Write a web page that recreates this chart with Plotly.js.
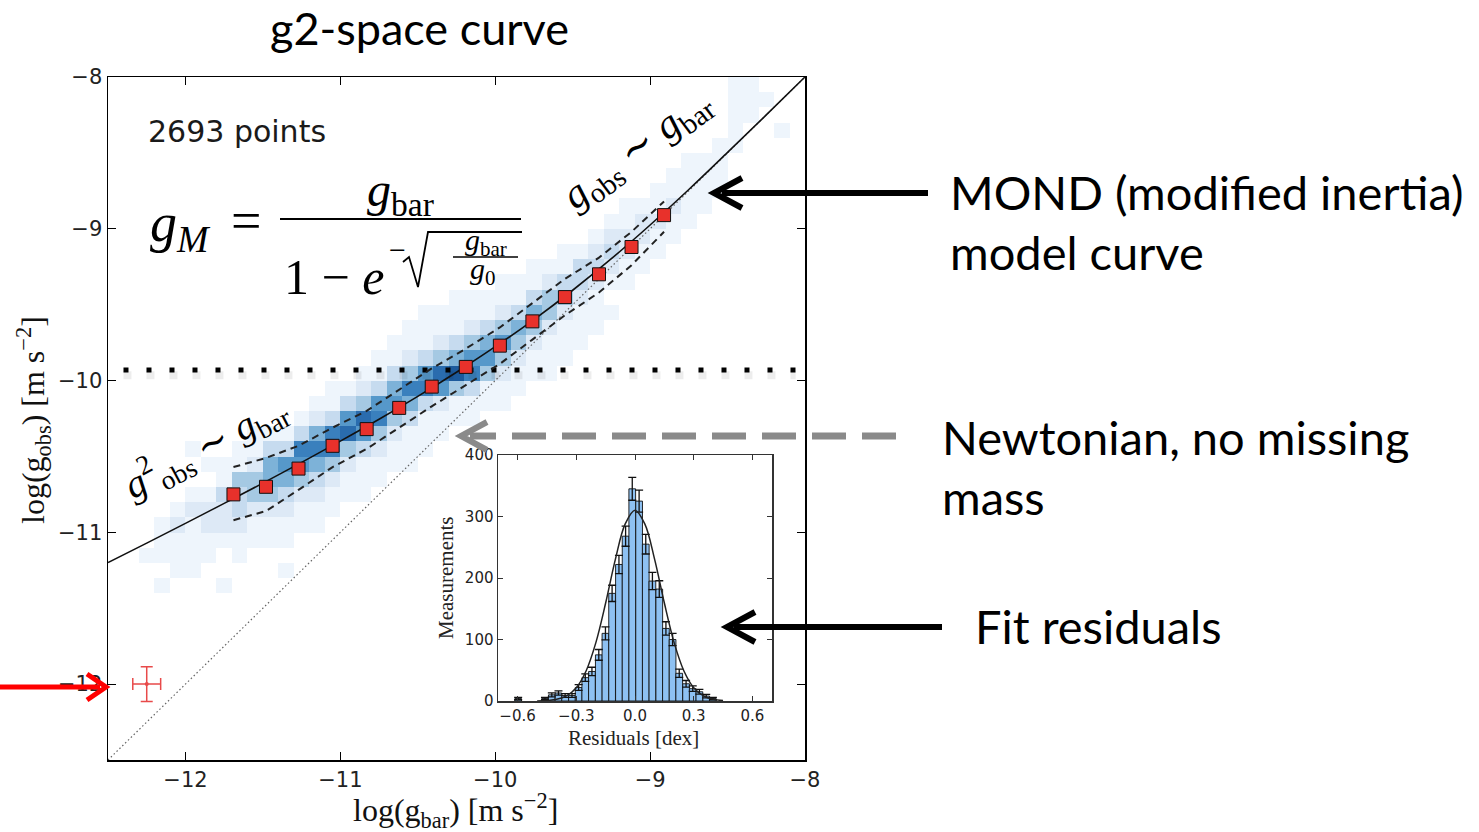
<!DOCTYPE html>
<html><head><meta charset="utf-8">
<script src="https://cdn.plot.ly/plotly-3.0.1.min.js"></script>
<style>html,body{margin:0;padding:0;background:#fff;}#chart{width:1479px;height:832px;}</style>
</head><body><div id="chart"></div>
<script>
// ---------- data ----------
// binned means of the radial acceleration relation
const binX = [-11.69,-11.48,-11.27,-11.05,-10.83,-10.62,-10.41,-10.19,-9.97,-9.76,-9.55,-9.33,-9.12,-8.91];
const binY = [-10.75,-10.70,-10.58,-10.43,-10.32,-10.18,-10.04,-9.91,-9.77,-9.61,-9.45,-9.30,-9.12,-8.91];
const bandUpper = [-10.57,-10.51,-10.43,-10.31,-10.20,-10.06,-9.92,-9.79,-9.65,-9.49,-9.33,-9.19,-9.02,-8.82];
const bandLower = [-10.92,-10.86,-10.72,-10.57,-10.45,-10.31,-10.17,-10.03,-9.89,-9.73,-9.57,-9.42,-9.24,-9.02];
// model curve (MOND fitting function)
const modelX = [-12.5,-12.25,-12,-11.75,-11.5,-11.25,-11,-10.75,-10.5,-10.25,-10,-9.75,-9.5,-9.25,-9,-8.75,-8.5,-8.25,-8];
const modelY = [-11.199,-11.071,-10.941,-10.809,-10.676,-10.539,-10.399,-10.255,-10.104,-9.945,-9.777,-9.598,-9.405,-9.197,-8.975,-8.741,-8.497,-8.250,-8.0];
// Newtonian 1:1 line
const newtonX = [-12.5,-8];
const newtonY = [-12.5,-8];
// acceleration scale g0 (horizontal dotted line)
const g0X = [-12.4,-8.06];
const g0Y = [-9.93,-9.93];
// typical error bar
const errX = [-12.25], errY = [-12.0], errDX = [0.09], errDY = [0.115];
// 2D density: x bins (0.1 dex) and y bins (0.1 dex), columns listed bottom->top starting at densityStart
const densX = [-12.45,-12.35,-12.25,-12.15,-12.05,-11.95,-11.85,-11.75,-11.65,-11.55,-11.45,-11.35,-11.25,-11.15,-11.05,-10.95,-10.85,-10.75,-10.65,-10.55,-10.45,-10.35,-10.25,-10.15,-10.05,-9.95,-9.85,-9.75,-9.65,-9.55,-9.45,-9.35,-9.25,-9.15,-9.05,-8.95,-8.85,-8.75,-8.65,-8.55,-8.45,-8.35,-8.25,-8.15,-8.05];
const densY = [-11.75,-11.65,-11.55,-11.45,-11.35,-11.25,-11.15,-11.05,-10.95,-10.85,-10.75,-10.65,-10.55,-10.45,-10.35,-10.25,-10.15,-10.05,-9.95,-9.85,-9.75,-9.65,-9.55,-9.45,-9.35,-9.25,-9.15,-9.05,-8.95,-8.85,-8.75,-8.65,-8.55,-8.45,-8.35,-8.25,-8.15,-8.05];
const densityStart = [0,0,6,4,5,5,6,4,6,7,7,5,8,8,9,10,10,11,12,12,13,14,15,15,16,16,17,18,18,19,20,21,22,24,25,26,27,28,29,30,33,35,36,34,0];
const densityLevels = ["","","1","10111","11121","111121001","1122101","100122311","11233411","11244211","11245531","1011235631","11246731","112357521","112477311","11248631","111368421","112476311","112465311","1113574211","1113763111","112684211","114953111","113764211","11465311","112464211","11245311","11245311","11124421","11124311","1112331","1112321","1012321","112211","11221","11211","11211","11111","1111","1111","11111","111","1","1",""];
// residual histogram (inset)
const resCenters = [-0.597,-0.460,-0.425,-0.391,-0.357,-0.322,-0.288,-0.254,-0.220,-0.185,-0.151,-0.117,-0.082,-0.048,-0.014,0.021,0.055,0.089,0.124,0.158,0.192,0.226,0.261,0.295,0.329,0.364,0.398];
const resCounts = [4,4,10,13,9,9,22,38,48,75,110,175,222,268,345,325,255,195,182,118,100,45,28,20,15,8,4];
const resErrors = [2,2,3.2,3.6,3,3,4.7,6.2,6.9,8.7,10.5,13.2,14.9,16.4,18.6,18,16,14,13.5,10.9,10,6.7,5.3,4.5,3.9,2.8,2];
const gaussX = [-0.5,-0.45,-0.4,-0.35,-0.3,-0.25,-0.2,-0.15,-0.1,-0.05,0,0.05,0.1,0.15,0.2,0.25,0.3,0.35,0.4,0.45];
const gaussY = [0.2,0.8,2.7,8.3,21.6,48.8,94.9,159.3,230.6,287.9,310,287.9,230.6,159.3,94.9,48.8,21.6,8.3,2.7,0.8];
// tick labels
const mainTicks = [-12,-11,-10,-9,-8];
const insetXTicks = [-0.6,-0.3,0,0.3,0.6];
const insetYTicks = [0,100,200,300,400];

// ---------- build density matrix ----------
const z = densY.map(() => densX.map(() => null));
densityLevels.forEach((s, j) => {
  for (let i = 0; i < s.length; i++) {
    const v = +s[i];
    if (v > 0) z[densityStart[j] + i][j] = v;
  }
});

const W = 1479, H = 832;
const px = x => x / W, py = y => 1 - y / H;
const P = (x, y) => px(x) + ',' + py(y);

const SERIF = 'Liberation Serif, DejaVu Serif, serif';
const SANS = 'DejaVu Sans, sans-serif';
const CAL = 'Lato, Open Sans, sans-serif';

const traces = [
  {type: 'heatmap', x: densX, y: densY, z: z, xaxis: 'x', yaxis: 'y', zmin: 1, zmax: 9, showscale: false, hoverinfo: 'skip',
   colorscale: [[0,'#eef5fc'],[0.125,'#dde9f6'],[0.25,'#c6dbef'],[0.375,'#a5c9e3'],[0.5,'#7db2d8'],[0.625,'#5698ca'],[0.75,'#3a80bd'],[0.875,'#2a6cae'],[1,'#1c5a9c']]},
  {type: 'scatter', mode: 'lines', x: newtonX, y: newtonY, line: {color: '#666', width: 1.2, dash: '1.5px,2.5px'}, hoverinfo: 'skip'},
  {type: 'scatter', mode: 'lines', x: g0X, y: g0Y.map(v => v - 0.035), line: {color: 'rgba(0,0,0,0.07)', width: 8, dash: '8px,15px'}, hoverinfo: 'skip'},
  {type: 'scatter', mode: 'lines', x: g0X, y: g0Y, line: {color: '#000', width: 5, dash: '5px,18px'}, hoverinfo: 'skip'},
  {type: 'scatter', mode: 'lines', x: modelX, y: modelY, line: {color: '#111', width: 1.6, shape: 'spline'}, hoverinfo: 'skip'},
  {type: 'scatter', mode: 'lines', x: binX, y: bandUpper, line: {color: '#222', width: 2, dash: '7px,5px'}, hoverinfo: 'skip'},
  {type: 'scatter', mode: 'lines', x: binX, y: bandLower, line: {color: '#222', width: 2, dash: '7px,5px'}, hoverinfo: 'skip'},
  {type: 'scatter', mode: 'markers', x: binX, y: binY, marker: {symbol: 'square', size: 13, color: '#e8312b', line: {color: '#111', width: 1}}, hoverinfo: 'skip'},
  {type: 'scatter', mode: 'markers', x: errX, y: errY, marker: {color: '#e84a4a', size: 4},
   error_x: {type: 'data', array: errDX, color: '#e84a4a', thickness: 1.5, width: 6},
   error_y: {type: 'data', array: errDY, color: '#e84a4a', thickness: 1.5, width: 6}, hoverinfo: 'skip'},
  // inset
  {type: 'bar', x: resCenters, y: resCounts, width: 0.0343, xaxis: 'x2', yaxis: 'y2',
   marker: {color: '#8ec1f2', line: {color: '#111', width: 0.9}},
   error_y: {type: 'data', array: resErrors, color: '#111', thickness: 1.3, width: 4}, hoverinfo: 'skip'},
  {type: 'scatter', mode: 'lines', x: gaussX, y: gaussY, xaxis: 'x2', yaxis: 'y2', line: {color: '#222', width: 1.5, shape: 'spline'}, hoverinfo: 'skip'}
];

const axMain = {
  range: [-12.5, -8], tickvals: mainTicks, ticks: 'inside', ticklen: 8, tickwidth: 1, tickcolor: '#000',
  mirror: 'ticks', showline: true, linecolor: '#000', linewidth: 1.5, showgrid: false, zeroline: false,
  tickfont: {family: SANS, size: 21, color: '#222'}, automargin: false, fixedrange: true
};
const axInset = {
  ticks: 'inside', ticklen: 5, tickcolor: '#333', mirror: 'ticks', showline: true, linecolor: '#333', linewidth: 1.5,
  showgrid: false, zeroline: false, tickfont: {family: SANS, size: 15, color: '#222'}, automargin: false
};

const shapes = [];
const seg = (x0, y0, x1, y1, color, width, dash) => shapes.push({type: 'line', xref: 'paper', yref: 'paper',
  x0: px(x0), y0: py(y0), x1: px(x1), y1: py(y1), line: {color, width, dash: dash || 'solid'}});
const path = (pts, color, width) => shapes.push({type: 'path', xref: 'paper', yref: 'paper',
  path: 'M' + pts.map(p => P(p[0], p[1])).join(' L'), line: {color, width}});

// fraction bars and radical in the formula
seg(280, 219, 521, 219, '#000', 2);
path([[403, 262], [409, 257], [418, 287], [428, 232], [522, 232]], '#000', 1.8);
seg(453, 257, 518, 257, '#000', 1.5);
// arrows
seg(928, 193, 722, 193, '#000', 6);
path([[742, 178], [714, 193], [742, 208]], '#000', 6);
seg(896, 436, 470, 436, '#8a8a8a', 7, '34px,16px');
path([[487, 422], [461, 436], [487, 450]], '#8a8a8a', 6);
seg(942, 627, 734, 627, '#000', 6);
path([[755, 612], [727, 627], [755, 642]], '#000', 6);
seg(0, 687, 100, 687, '#ff0000', 5);
path([[87, 674], [106, 687], [87, 700]], '#ff0000', 5);

const ann = (text, x, y, o) => Object.assign({text, x: px(x), y: py(y), xref: 'paper', yref: 'paper', showarrow: false,
  xanchor: 'center', yanchor: 'middle', font: {family: SERIF, size: 40, color: '#000'}}, o || {});

const annotations = [
  ann('g2-space curve', 419, 28, {font: {family: CAL, size: 45, color: '#000'}}),
  ann('2693 points', 146, 131, {xanchor: 'left', font: {family: SANS, size: 30, color: '#1a1a1a'}}),
  ann('<i>g</i><sub><i>M</i></sub>', 148, 226, {xanchor: 'left', font: {family: SERIF, size: 54, color: '#000'}}),
  ann('=', 246, 221, {font: {family: SERIF, size: 54, color: '#000'}}),
  ann('<i>g</i><sub>bar</sub>', 400, 193, {font: {family: SERIF, size: 48, color: '#000'}}),
  ann('1 − <i>e</i>', 386, 277, {xanchor: 'right', font: {family: SERIF, size: 50, color: '#000'}}),
  ann('−', 397, 249, {font: {family: SERIF, size: 30, color: '#000'}}),
  ann('<i>g</i><sub>bar</sub>', 486, 242, {font: {family: SERIF, size: 30, color: '#000'}}),
  ann('<i>g</i><sub>0</sub>', 483, 271, {font: {family: SERIF, size: 30, color: '#000'}}),
  ann('<i>g</i><sub>obs</sub> ∼ <i>g</i><sub>bar</sub>', 637, 150, {textangle: -37, font: {family: SERIF, size: 41, color: '#000'}}),
  ann('<i>g</i><sup>2</sup><sub>obs</sub> ∼ <i>g</i><sub>bar</sub>', 205, 446, {textangle: -28, font: {family: SERIF, size: 39, color: '#000'}}),
  ann('log(g<sub>bar</sub>) [m s<sup>−2</sup>]', 455, 810, {font: {family: SERIF, size: 32, color: '#111'}}),
  ann('log(g<sub>obs</sub>) [m s<sup>−2</sup>]', 33, 420, {textangle: -90, font: {family: SERIF, size: 32, color: '#111'}}),
  ann('Measurements', 446, 578, {textangle: -90, font: {family: SERIF, size: 21, color: '#222'}}),
  ann('Residuals [dex]', 633, 738, {font: {family: SERIF, size: 21, color: '#222'}}),
  ann('MOND (modified inertia)', 948, 192, {xanchor: 'left', font: {family: CAL, size: 47, color: '#000'}}),
  ann('model curve', 948, 252, {xanchor: 'left', font: {family: CAL, size: 47, color: '#000'}}),
  ann('Newtonian, no missing', 940, 437, {xanchor: 'left', font: {family: CAL, size: 47, color: '#000'}}),
  ann('mass', 940, 497, {xanchor: 'left', font: {family: CAL, size: 47, color: '#000'}}),
  ann('Fit residuals', 973, 626, {xanchor: 'left', font: {family: CAL, size: 47, color: '#000'}})
];

const layout = {
  width: W, height: H, margin: {l: 0, r: 0, t: 0, b: 0}, paper_bgcolor: '#fff', plot_bgcolor: '#fff', showlegend: false,
  xaxis: Object.assign({}, axMain, {domain: [108 / W, 805 / W], anchor: 'y'}),
  yaxis: Object.assign({}, axMain, {domain: [1 - 760 / H, 1 - 77 / H], anchor: 'x'}),
  xaxis2: Object.assign({}, axInset, {domain: [498 / W, 772 / W], anchor: 'y2', range: [-0.7, 0.7], tickvals: insetXTicks, tickformat: '.1f'}),
  yaxis2: Object.assign({}, axInset, {domain: [1 - 701 / H, 1 - 455 / H], anchor: 'x2', range: [0, 400], tickvals: insetYTicks}),
  shapes, annotations
};

Plotly.newPlot('chart', traces, layout, {staticPlot: true, displayModeBar: false});
</script></body></html>
